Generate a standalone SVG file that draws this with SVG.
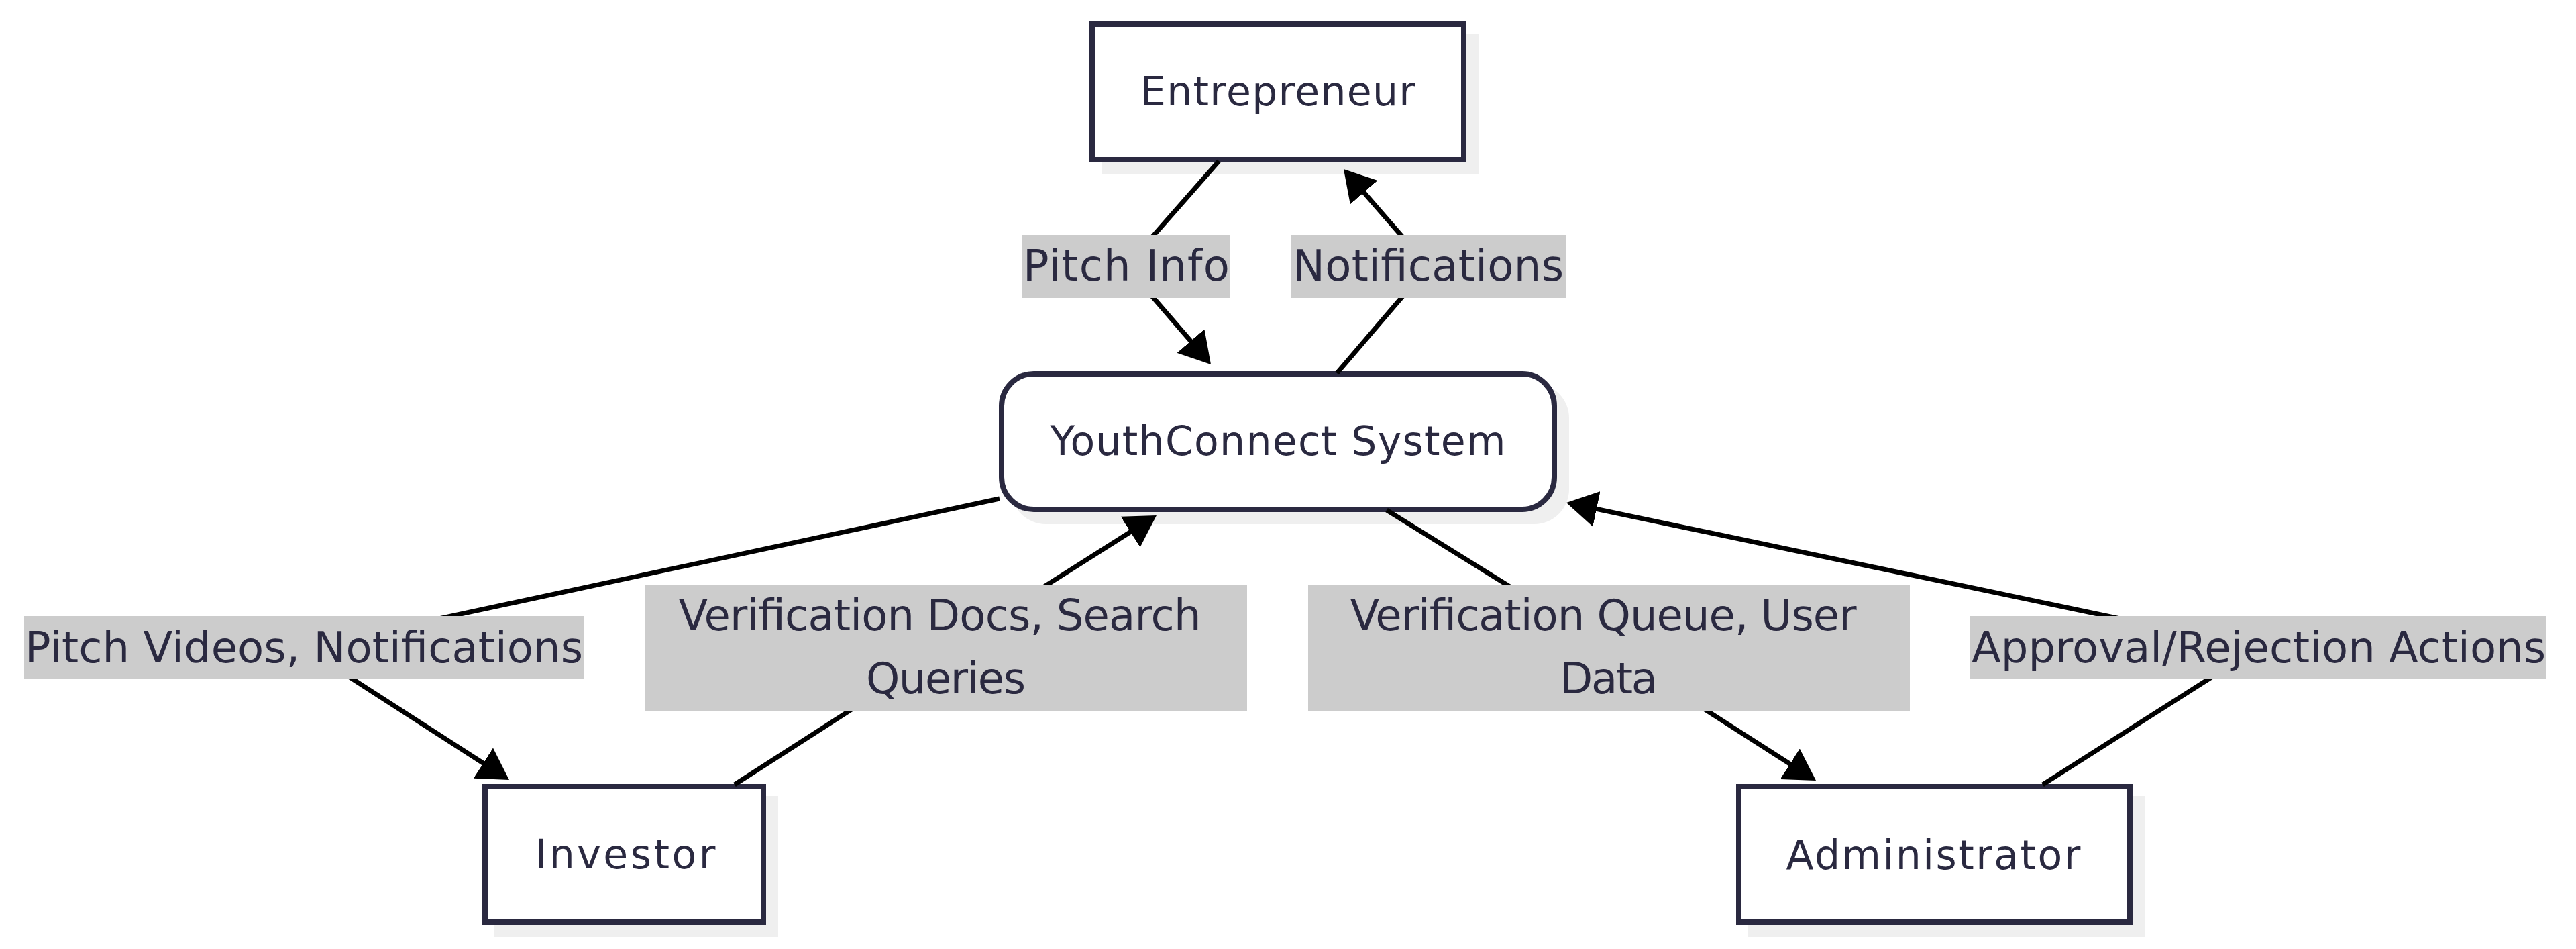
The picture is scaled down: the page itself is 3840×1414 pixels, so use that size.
<svg xmlns="http://www.w3.org/2000/svg" width="3840" height="1414" viewBox="0 0 3840 1414">
<style>
.bg{fill:#ffffff}
.shadow{fill:#efefef}
.node{fill:#ffffff;stroke:#2a2940;stroke-width:8}
.ntext{font-family:"DejaVu Sans","Liberation Sans",sans-serif;font-size:60px;fill:#2a2940;text-anchor:middle}
.edge{fill:none;stroke:#000000;stroke-width:7}
.lbg{fill:#cccccc}
.ltext{font-family:"DejaVu Sans","Liberation Sans",sans-serif;font-size:64px;fill:#2a2940;text-anchor:middle}
</style>
<defs>
<marker id="arrow" markerUnits="userSpaceOnUse" viewBox="0 0 46 54" refX="38" refY="27" markerWidth="46" markerHeight="54" orient="auto">
<path d="M0,0 L46,27 L0,54 z" fill="#000000"/>
</marker>
</defs>
<rect class="bg" x="0" y="0" width="3840" height="1414"/>
<g id="nodes">
<g id="node-entrepreneur">
<rect class="shadow" x="1642" y="50" width="562" height="210"/>
<rect class="node" x="1628" y="36" width="554" height="202"/>
<text class="ntext" x="1905" y="157" textLength="410">Entrepreneur</text>
</g>
<g id="node-youthconnect">
<rect class="shadow" x="1507" y="571" width="832" height="210" rx="52" ry="52"/>
<rect class="node" x="1493" y="557" width="824" height="202" rx="48" ry="48"/>
<text class="ntext" x="1905" y="678" textLength="679">YouthConnect System</text>
</g>
<g id="node-investor">
<rect class="shadow" x="737" y="1186" width="423" height="210"/>
<rect class="node" x="723" y="1172" width="415" height="202"/>
<text class="ntext" x="932" y="1294" textLength="269">Investor</text>
</g>
<g id="node-administrator">
<rect class="shadow" x="2606" y="1186" width="591" height="210"/>
<rect class="node" x="2592" y="1172" width="583" height="202"/>
<text class="ntext" x="2882" y="1295" textLength="439">Administrator</text>
</g>
</g>
<g id="connectors">
<path id="e1" class="edge" d="M1817,240 L1679,397 L1799.8,536.9" marker-end="url(#arrow)"/>
<path id="e2" class="edge" d="M1993,556 L2129,397 L2008.2,258" marker-end="url(#arrow)"/>
<path id="e3" class="edge" d="M1490,743 L453,965 L752.3,1157.7" marker-end="url(#arrow)"/>
<path id="e4" class="edge" d="M1095,1169 L1411,966 L1717.2,772.3" marker-end="url(#arrow)"/>
<path id="e5" class="edge" d="M2067,760 L2399,966 L2700.3,1158.7" marker-end="url(#arrow)"/>
<path id="e6" class="edge" d="M3045,1169 L3366,965 L2342.8,750.6" marker-end="url(#arrow)"/>
</g>
<g id="edge-labels">
<g id="label-pitch-info">
<rect class="lbg" x="1524" y="350" width="310" height="94"/>
<text class="ltext" x="1679" y="418" textLength="308">Pitch Info</text>
</g>
<g id="label-notifications">
<rect class="lbg" x="1925" y="350" width="409" height="94"/>
<text class="ltext" x="2129" y="418" textLength="404">Notifications</text>
</g>
<g id="label-pitch-videos">
<rect class="lbg" x="36" y="918" width="835" height="94"/>
<text class="ltext" x="453" y="987" textLength="832">Pitch Videos, Notifications</text>
</g>
<g id="label-verification-docs">
<rect class="lbg" x="962" y="872" width="897" height="188"/>
<text class="ltext" x="1401" y="939" textLength="779">Verification Docs, Search</text>
<text class="ltext" x="1410" y="1033" textLength="238">Queries</text>
</g>
<g id="label-verification-queue">
<rect class="lbg" x="1950" y="872" width="897" height="188"/>
<text class="ltext" x="2390" y="939" textLength="755">Verification Queue, User</text>
<text class="ltext" x="2398" y="1033" textLength="146">Data</text>
</g>
<g id="label-approval">
<rect class="lbg" x="2937" y="918" width="859" height="94"/>
<text class="ltext" x="3367" y="987" textLength="856">Approval/Rejection Actions</text>
</g>
</g>
</svg>
